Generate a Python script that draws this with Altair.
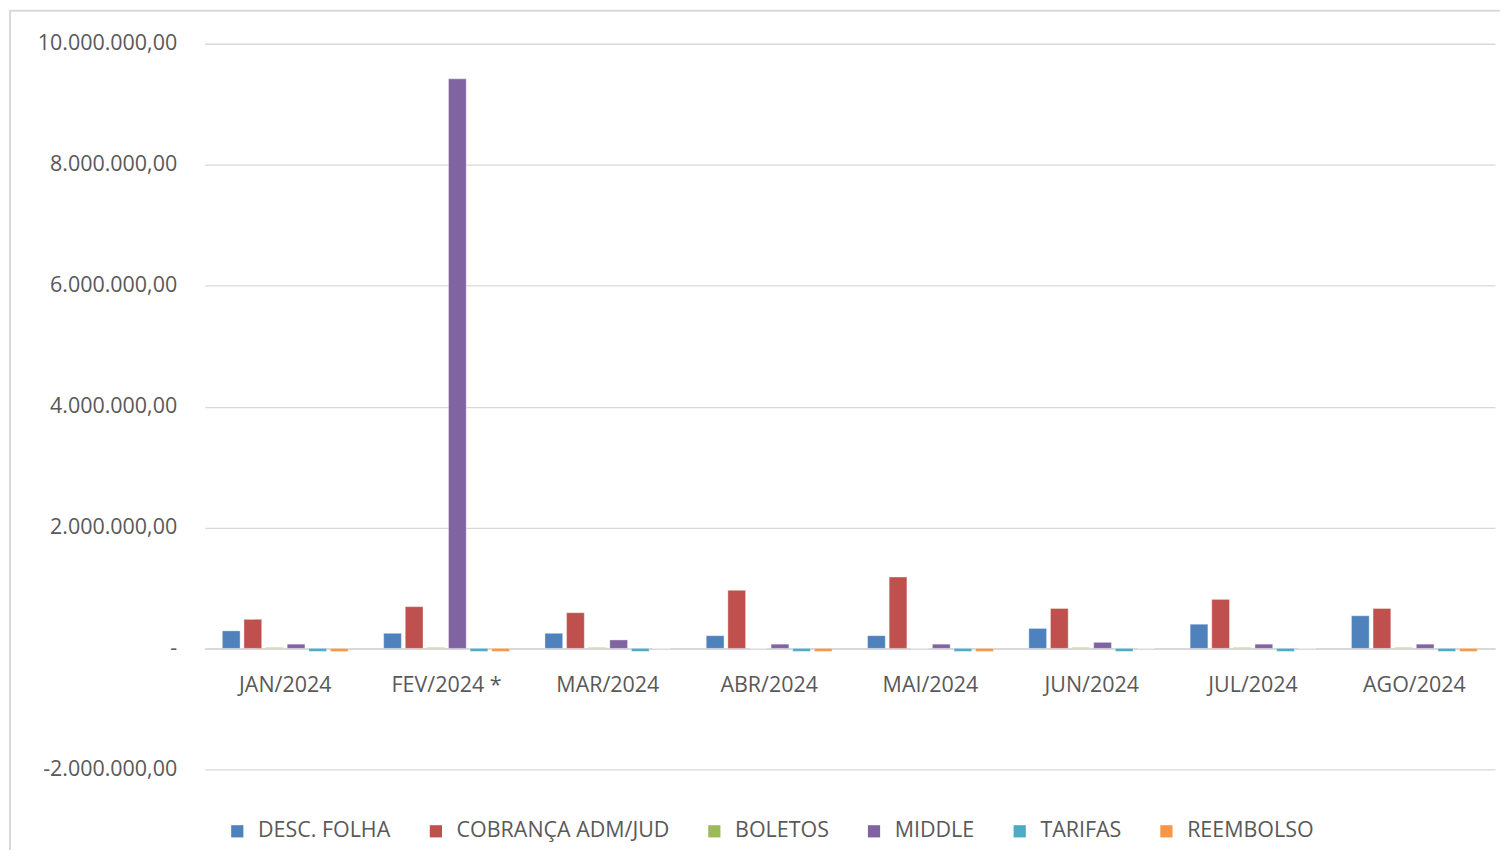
import altair as alt
import pandas as pd

months = ["JAN/2024", "FEV/2024 *", "MAR/2024", "ABR/2024", "MAI/2024", "JUN/2024", "JUL/2024", "AGO/2024"]
series = ["DESC. FOLHA", "COBRANÇA ADM/JUD", "BOLETOS", "MIDDLE", "TARIFAS", "REEMBOLSO"]
colors = ["#4F81BD", "#C0504D", "#9BBB59", "#8064A2", "#4BACC6", "#F79646"]

desc_folha = [290000, 250000, 250000, 210000, 210000, 330000, 400000, 540000]
cobranca = [480000, 690000, 590000, 960000, 1180000, 660000, 810000, 660000]
boletos = [15000, 15000, 15000, 0, 0, 15000, 15000, 15000]
middle = [70000, 9420000, 140000, 70000, 70000, 100000, 70000, 70000]
tarifas = [-50000, -50000, -50000, -50000, -50000, -50000, -50000, -50000]
reembolso = [-50000, -50000, 0, -50000, -50000, 0, 0, -50000]

values = [desc_folha, cobranca, boletos, middle, tarifas, reembolso]
rows = []
for s, vals in zip(series, values):
    for m, v in zip(months, vals):
        rows.append({"mes": m, "serie": s, "valor": v})
df = pd.DataFrame(rows)

font = "Open Sans"
fs = 21.5

frame = alt.Chart(pd.DataFrame({"k": [0]})).mark_rect(
    fillOpacity=0, stroke="#d9d9d9", strokeWidth=2
).encode(
    x=alt.value(-195), x2=alt.value(1310),
    y=alt.value(-33), y2=alt.value(840),
)

bars = alt.Chart(df).mark_bar(stroke="white", strokeWidth=0.6, strokeOpacity=0.6).encode(
    x=alt.X("mes:N", sort=months, title=None,
            scale=alt.Scale(paddingInner=0.22, paddingOuter=0.11),
            axis=alt.Axis(labelAngle=0, offset=-121, domainColor="#d9d9d9", domainWidth=2,
                          ticks=False, labelPadding=26, labelFontSize=fs, labelColor="#595959",
                          labelFont=font)),
    xOffset=alt.XOffset("serie:N", sort=series, scale=alt.Scale(paddingInner=0.18)),
    y=alt.Y("valor:Q", title=None,
            scale=alt.Scale(domain=[-2000000, 10000000], nice=False),
            axis=alt.Axis(values=[-2000000, 0, 2000000, 4000000, 6000000, 8000000, 10000000],
                          format=",.2f",
                          labelExpr="datum.value == 0 ? '-' : datum.label",
                          domain=False, ticks=False, labelPadding=28,
                          labelFontSize=fs, labelColor="#595959", labelFont=font,
                          gridColor="#d9d9d9", gridWidth=1.3)),
    color=alt.Color("serie:N", sort=series,
                    scale=alt.Scale(domain=series, range=colors),
                    legend=alt.Legend(title=None, orient="none", direction="horizontal",
                                      legendX=22, legendY=778, symbolType="square",
                                      symbolSize=150, symbolStrokeWidth=0,
                                      labelFontSize=fs, labelColor="#595959", labelFont=font,
                                      labelLimit=0, columnPadding=34, labelOffset=10)),
)

chart = alt.layer(frame, bars).properties(
    width=1293, height=727,
    autosize=alt.AutoSizeParams(type="none"),
    padding={"left": 197, "top": 35, "right": 5, "bottom": 80},
).configure(
    locale={"number": {"decimal": ",", "thousands": ".", "grouping": [3],
                       "currency": ["R$", ""], "minus": "-"}},
    background="white",
).configure_view(stroke=None)

chart.save("out.html", embed_options={"renderer": "svg", "actions": False})
